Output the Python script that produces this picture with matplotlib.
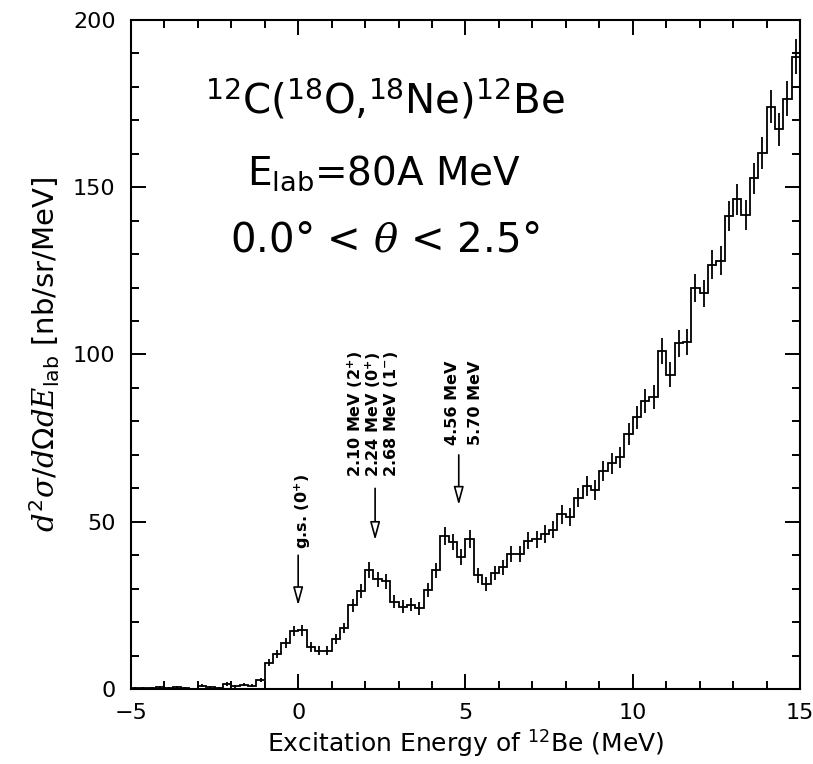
import numpy as np
import matplotlib.pyplot as plt

# histogram of 12C(18O,18Ne)12Be, 0.25 MeV bins from -5 to 15 MeV
bin_start = -5.0
bin_width = 0.25

# counts per bin (nb/sr/MeV)
values = [0.3, 0.4, 0.3, 0.5, 0.4, 0.5, 0.4, 0.1,
          1.0, 0.6, 0.2, 1.5, 0.8, 1.3, 1.0, 2.6,
          7.9, 10.6, 13.8, 17.4, 17.6, 12.6, 11.5, 11.5,
          14.9, 18.3, 25.0, 29.3, 35.6, 32.8, 32.2, 26.1,
          24.6, 25.2, 24.1, 29.7, 35.5, 45.8, 44.0, 39.4,
          44.9, 34.0, 31.3, 34.7, 36.4, 40.4, 40.5, 44.4,
          44.8, 46.3, 47.7, 52.2, 51.5, 57.2, 60.7, 59.5,
          65.2, 67.5, 69.3, 76.2, 81.2, 86.1, 87.4, 101.1,
          94.0, 103.3, 103.8, 119.8, 118.3, 126.8, 128.0, 141.5,
          146.4, 141.7, 152.6, 160.2, 174.1, 167.3, 176.5, 189.0]

# statistical errors per bin
errors = [0.3, 0.3, 0.3, 0.3, 0.3, 0.3, 0.3, 0.3,
          0.4, 0.3, 0.3, 0.5, 0.4, 0.4, 0.4, 0.6,
          1.1, 1.2, 1.4, 1.6, 1.6, 1.4, 1.3, 1.3,
          1.5, 1.6, 1.9, 2.1, 2.3, 2.2, 2.2, 1.9,
          1.9, 1.9, 1.9, 2.1, 2.3, 2.6, 2.5, 2.4,
          2.6, 2.2, 2.1, 2.2, 2.3, 2.4, 2.4, 2.5,
          2.5, 2.6, 2.6, 2.8, 2.7, 2.9, 3.0, 2.9,
          3.1, 3.1, 3.2, 3.3, 3.4, 3.5, 3.6, 3.8,
          3.7, 3.9, 3.9, 4.2, 4.1, 4.3, 4.3, 4.5,
          4.6, 4.5, 4.7, 4.8, 5.0, 4.9, 5.1, 5.2]

# state labels: (text lines, x of each line, text bottom, arrow x, arrow top, arrow tip)
states = [
    (['g.s. (0$^{+}$)'], [0.14], 42, 0.0, 40, 25),
    (['2.10 MeV (2$^{+}$)', '2.24 MeV (0$^{+}$)', '2.68 MeV (1$^{-}$)'],
     [1.70, 2.24, 2.78], 63.5, 2.3, 60, 44.5),
    (['4.56 MeV', '5.70 MeV'], [4.6, 5.3], 73, 4.8, 70, 55),
]

plt.rcParams['font.family'] = ['DejaVu Sans']
plt.rcParams['mathtext.fontset'] = 'custom'
plt.rcParams['mathtext.rm'] = 'DejaVu Sans'
plt.rcParams['mathtext.bf'] = 'DejaVu Sans:bold'
plt.rcParams['mathtext.it'] = 'DejaVu Serif:italic'

values = np.array(values)
errors = np.array(errors)
edges = bin_start + bin_width * np.arange(len(values) + 1)
centers = 0.5 * (edges[:-1] + edges[1:])

fig = plt.figure(figsize=(8.13, 7.64), dpi=100)
ax = fig.add_axes([0.161, 0.098, 0.823, 0.876])

ax.stairs(values, edges, color='black', linewidth=1.3)
ax.errorbar(centers, values, yerr=errors, fmt='none', ecolor='black', elinewidth=1.3)

ax.set_xlim(-5, 15)
ax.set_ylim(0, 200)
ax.set_xticks([-5, 0, 5, 10, 15])
ax.set_xticks(np.arange(-5, 16, 1), minor=True)
ax.set_yticks([0, 50, 100, 150, 200])
ax.set_yticks(np.arange(0, 201, 10), minor=True)
ax.tick_params(which='both', direction='in', top=True, right=True, width=1.4, labelsize=16)
ax.tick_params(which='major', length=11)
ax.tick_params(axis='x', which='major', pad=10)
ax.tick_params(axis='y', which='major', pad=11)
ax.tick_params(which='minor', length=5.5)
for sp in ax.spines.values():
    sp.set_linewidth(1.5)

ax.set_xlabel('Excitation Energy of $^{12}$Be (MeV)', fontsize=18, labelpad=3)
ax.set_ylabel(r'$d^{2}\sigma/d\mathit{\Omega}dE_{\rm lab}$ [nb/sr/MeV]', fontsize=21, labelpad=8)

# reaction text
ax.text(2.6, 176, '$^{12}$C($^{18}$O,$^{18}$Ne)$^{12}$Be', fontsize=29, ha='center', va='center')
ax.text(2.57, 154, 'E$_{\\rm lab}$=80A MeV', fontsize=28, ha='center', va='center')
ax.text(2.6, 134, r'0.0° < $\theta$ < 2.5°', fontsize=29, ha='center', va='center')

# state markers
for lines, xs, ybot, xa, ytop, ytip in states:
    for s, xl in zip(lines, xs):
        ax.text(xl, ybot, s.replace('$^{', '$^{\\mathbf{').replace('}$', '}}$'),
                rotation=90, fontsize=11.5, fontweight='bold', ha='center', va='bottom')
    ax.annotate('', xy=(xa, ytip), xytext=(xa, ytop),
                arrowprops=dict(arrowstyle='-|>,head_length=1.1,head_width=0.3',
                                fc='white', ec='black', lw=1.2, shrinkA=0, shrinkB=0))

plt.savefig('out.png')
